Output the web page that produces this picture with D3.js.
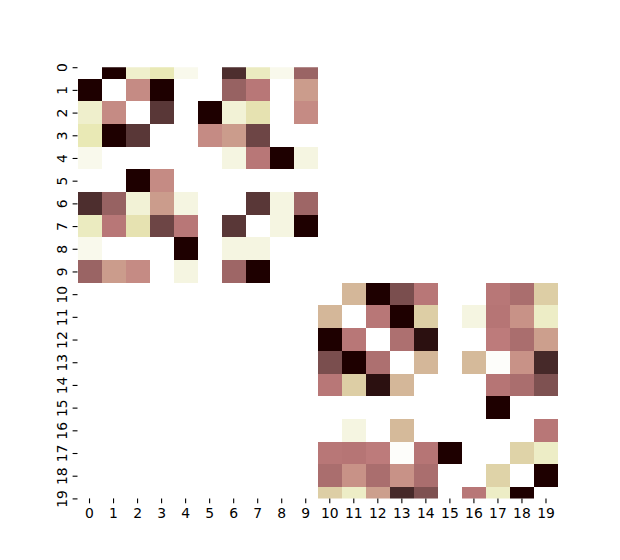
<!DOCTYPE html>
<html>
<head>
<meta charset="utf-8">
<script src="https://cdnjs.cloudflare.com/ajax/libs/d3/7.8.5/d3.min.js"></script>
<style>
  body { margin: 0; background: #fff; }
  text { font-family: 'DejaVu Sans', sans-serif; font-size: 13.9px; fill: #000; }
</style>
</head>
<body>
<div id="main"></div>
<script>
// row / column labels
const labels = d3.range(20);
// cell values, already scaled to 0..1 (0 shows white, 1 shows the darkest red)
const values = [
  [0, 1, 0.18, 0.25, 0.07, 0, 0.95, 0.22, 0.07, 0.77, 0, 0, 0, 0, 0, 0, 0, 0, 0, 0],
  [1, 0, 0.60, 1, 0, 0, 0.78, 0.67, 0, 0.55, 0, 0, 0, 0, 0, 0, 0, 0, 0, 0],
  [0.18, 0.60, 0, 0.93, 0, 1, 0.15, 0.28, 0, 0.60, 0, 0, 0, 0, 0, 0, 0, 0, 0, 0],
  [0.25, 1, 0.93, 0, 0, 0.60, 0.55, 0.89, 0, 0, 0, 0, 0, 0, 0, 0, 0, 0, 0, 0],
  [0.07, 0, 0, 0, 0, 0, 0.11, 0.67, 1, 0.11, 0, 0, 0, 0, 0, 0, 0, 0, 0, 0],
  [0, 0, 1, 0.60, 0, 0, 0, 0, 0, 0, 0, 0, 0, 0, 0, 0, 0, 0, 0, 0],
  [0.95, 0.78, 0.15, 0.55, 0.11, 0, 0, 0.93, 0.11, 0.76, 0, 0, 0, 0, 0, 0, 0, 0, 0, 0],
  [0.22, 0.67, 0.28, 0.89, 0.67, 0, 0.93, 0, 0.11, 1, 0, 0, 0, 0, 0, 0, 0, 0, 0, 0],
  [0.07, 0, 0, 0, 1, 0, 0.11, 0.11, 0, 0, 0, 0, 0, 0, 0, 0, 0, 0, 0, 0],
  [0.77, 0.55, 0.60, 0, 0.11, 0, 0.76, 1, 0, 0, 0, 0, 0, 0, 0, 0, 0, 0, 0, 0],
  [0, 0, 0, 0, 0, 0, 0, 0, 0, 0, 0, 0.46, 1, 0.86, 0.67, 0, 0, 0.67, 0.72, 0.37],
  [0, 0, 0, 0, 0, 0, 0, 0, 0, 0, 0.46, 0, 0.67, 1, 0.37, 0, 0.11, 0.68, 0.58, 0.20],
  [0, 0, 0, 0, 0, 0, 0, 0, 0, 0, 1, 0.67, 0, 0.71, 0.99, 0, 0, 0.65, 0.72, 0.54],
  [0, 0, 0, 0, 0, 0, 0, 0, 0, 0, 0.86, 1, 0.71, 0, 0.46, 0, 0.45, 0.02, 0.58, 0.96],
  [0, 0, 0, 0, 0, 0, 0, 0, 0, 0, 0.67, 0.37, 0.99, 0.46, 0, 0, 0, 0.68, 0.72, 0.85],
  [0, 0, 0, 0, 0, 0, 0, 0, 0, 0, 0, 0, 0, 0, 0, 0, 0, 1, 0, 0],
  [0, 0, 0, 0, 0, 0, 0, 0, 0, 0, 0, 0.11, 0, 0.45, 0, 0, 0, 0, 0, 0.67],
  [0, 0, 0, 0, 0, 0, 0, 0, 0, 0, 0.67, 0.68, 0.65, 0.02, 0.68, 1, 0, 0, 0.35, 0.20],
  [0, 0, 0, 0, 0, 0, 0, 0, 0, 0, 0.72, 0.58, 0.72, 0.58, 0.72, 0, 0, 0.35, 0, 1],
  [0, 0, 0, 0, 0, 0, 0, 0, 0, 0, 0.37, 0.20, 0.54, 0.96, 0.85, 0, 0.67, 0.20, 1, 0]
];

function main() {
  const width = 620;
  const height = 560;
  // plot area (matplotlib default subplot box)
  const left = 77.5;
  const right = 558;
  const top = 67.2;
  const bottom = 498.4;

  const svg = d3.select('#main').append('svg')
    .attr('width', width)
    .attr('height', height);

  // "pink" colour table (64 steps, as in matlab), used reversed
  const m = 64;
  const n = Math.floor(3 / 8 * m);
  const pinkTable = d3.range(m).map((i) => {
    const g = i / (m - 1);
    const hr = i < n ? (i + 1) / n : 1;
    const hg = i < n ? 0 : (i < 2 * n ? (i - n + 1) / n : 1);
    const hb = i < 2 * n ? 0 : (i - 2 * n + 1) / (m - 2 * n);
    const f = h => Math.round(255 * Math.sqrt((2 * g + h) / 3));
    return d3.rgb(f(hr), f(hg), f(hb)).toString();
  });
  const pink = d3.scaleLinear()
    .domain(d3.range(m).map(i => i / (m - 1)))
    .range(pinkTable)
    .interpolate(d3.interpolateRgb)
    .clamp(true);
  const color = v => pink(1 - v);

  // scales: columns as bands, rows on a linear scale cut at half a row
  const x = d3.scaleBand()
    .domain(labels)
    .range([left, right]);
  const y = d3.scaleLinear()
    .domain([0.5, labels.length - 0.5])
    .range([top, bottom]);

  svg.append('clipPath')
    .attr('id', 'plot-clip')
    .append('rect')
    .attr('x', left)
    .attr('y', top)
    .attr('width', right - left)
    .attr('height', bottom - top);

  // flatten the matrix into cells
  const cells = [];
  values.forEach((row, r) => row.forEach((v, c) => cells.push({ r, c, v })));

  svg.append('g')
    .attr('clip-path', 'url(#plot-clip)')
    .selectAll('rect')
    .data(cells)
    .enter()
    .append('rect')
    .attr('x', d => x(d.c))
    .attr('y', d => y(d.r))
    .attr('width', x.bandwidth())
    .attr('height', d => y(d.r + 1) - y(d.r))
    .attr('fill', d => color(d.v))
    .attr('shape-rendering', 'crispEdges');

  // x axis
  const xAxis = svg.append('g')
    .attr('transform', `translate(0,${bottom})`)
    .call(d3.axisBottom(x).tickSize(4.9).tickPadding(5));
  xAxis.select('.domain').remove();
  xAxis.selectAll('.tick line').attr('stroke', '#000').attr('stroke-width', 1.1);
  xAxis.selectAll('.tick text')
    .attr('y', 20.1)
    .attr('dy', null)
    .style('font-size', '13.9px');

  // y axis, labels turned to read upwards
  const yAxis = svg.append('g')
    .attr('transform', `translate(${left},0)`)
    .call(d3.axisLeft(y)
      .tickValues(labels.map(d => d + 0.5))
      .tickFormat(d => d3.format('d')(d - 0.5))
      .tickSize(4.9));
  yAxis.select('.domain').remove();
  yAxis.selectAll('.tick line').attr('stroke', '#000').attr('stroke-width', 1.1);
  yAxis.selectAll('.tick text')
    .attr('x', null)
    .attr('dy', null)
    .attr('text-anchor', 'middle')
    .attr('transform', 'translate(-11,0) rotate(-90)')
    .style('font-size', '13.9px');
}

document.addEventListener('DOMContentLoaded', main());
</script>
</body>
</html>
